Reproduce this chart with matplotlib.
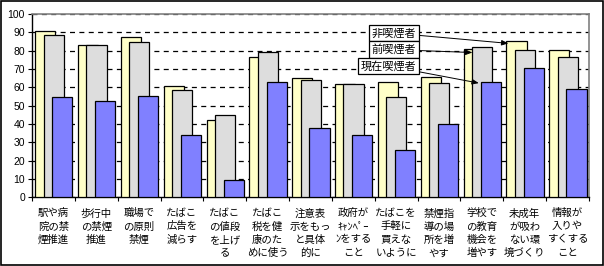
import numpy as np
import matplotlib
matplotlib.use('Agg')
import matplotlib.pyplot as plt
from matplotlib.patches import Rectangle

plt.rcParams['font.family'] = ['Liberation Sans', 'Noto Sans CJK JP', 'DejaVu Sans']

labels = ['駅や病\n院の禁\n煙推進', '歩行中\nの禁煙\n推進', '職場で\nの原則\n禁煙',
          'たばこ\n広告を\n減らす', 'たばこ\nの値段\nを上げ\nる', 'たばこ\n税を健\n康のた\nめに使う',
          '注意表\n示をもっ\nと具体\n的に', '政府が\nｷｬﾝﾍﾟｰ\nﾝをする\nこと', 'たばこを\n手軽に\n買えな\nいように',
          '禁煙指\n導の場\n所を増\nやす', '学校で\nの教育\n機会を\n増やす', '未成年\nが吸わ\nない環\n境づくり',
          '情報が\n入りや\nすくする\nこと']
non_smoker = [91, 83, 87.4, 60.6, 42, 76.5, 65, 61.7, 62.8, 65.5, 80.8, 85.2, 80.3]
former = [88.5, 83, 84.7, 58.4, 44.7, 79.2, 63.9, 61.7, 54.6, 62.2, 81.9, 80.3, 76.5]
current = [54.6, 52.4, 55.1, 33.8, 9.1, 62.8, 37.6, 33.8, 25.5, 39.8, 62.8, 70.4, 58.9]

fs = 7.5
x = np.arange(len(labels))
w = 0.47

fig = plt.figure(figsize=(6.04, 2.66), dpi=100)
fig.patches.append(Rectangle((0.001, 0.002), 0.997, 0.995, transform=fig.transFigure,
                             fill=False, edgecolor='black', linewidth=1.2))
ax = fig.add_axes([0.053, 0.259, 0.922, 0.688])

ax.bar(x - 0.19, non_smoker, w, color='#FFFFC8', edgecolor='black', linewidth=0.9, zorder=3)
ax.bar(x + 0.005, former, w, color='#DDDDDD', edgecolor='black', linewidth=0.9, zorder=4)
ax.bar(x + 0.21, current, w, color='#8080FF', edgecolor='black', linewidth=0.9, zorder=5)

ax.set_xlim(-0.5, len(labels) - 0.5)
ax.set_ylim(0, 100)
ax.set_yticks(np.arange(0, 101, 10))
ax.yaxis.grid(True, color='black', linestyle=(0, (4, 3.5)), linewidth=0.9, zorder=1)
ax.tick_params(axis='y', labelsize=fs, length=3, width=0.8, pad=2)

ax.set_xticks(x)
ax.set_xticklabels(labels, family=['Noto Sans CJK JP', 'DejaVu Sans'], fontsize=fs,
                   linespacing=1.4, va='top')
ax.set_xticks(np.arange(-0.5, len(labels)), minor=True)
ax.tick_params(axis='x', which='major', length=0, pad=8)
ax.tick_params(axis='x', which='minor', length=3, width=0.8)

for s in ['top', 'right']:
    ax.spines[s].set_color('#808080')
    ax.spines[s].set_linewidth(1.2)
for s in ['left', 'bottom']:
    ax.spines[s].set_linewidth(1.0)

box = dict(boxstyle='square,pad=0.25', facecolor='white', edgecolor='black', linewidth=0.9)
arr = dict(arrowstyle='-|>,head_length=0.5,head_width=0.2', color='black', linewidth=0.7,
           shrinkA=0, shrinkB=0)
jp = ['Noto Sans CJK JP', 'DejaVu Sans']
ax.annotate('非喫煙者', xy=(10.62, 84), xytext=(7.95, 89.6), ha='center', va='center',
            fontsize=8, family=jp, bbox=box, arrowprops=arr, zorder=10)
ax.annotate('前喫煙者', xy=(9.78, 79), xytext=(7.95, 80.6), ha='center', va='center',
            fontsize=8, family=jp, bbox=box, arrowprops=arr, zorder=10)
ax.annotate('現在喫煙者', xy=(9.93, 62.3), xytext=(7.83, 71.6), ha='center', va='center',
            fontsize=8, family=jp, bbox=box, arrowprops=arr, zorder=10)

plt.savefig('out.png', dpi=100)
plt.close()
